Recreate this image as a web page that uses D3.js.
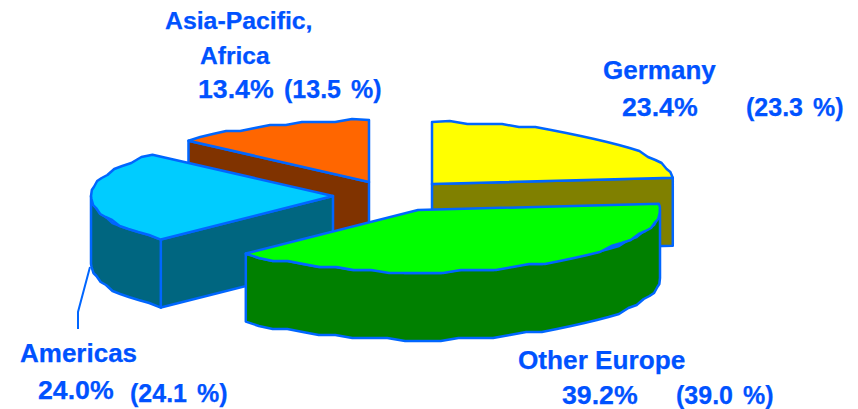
<!DOCTYPE html>
<html>
<head>
<meta charset="utf-8">
<script src="https://cdn.jsdelivr.net/npm/d3@7"></script>
<style>
  html, body { margin: 0; padding: 0; background: #fff; }
  svg { display: block; }
  text { font-family: "Liberation Sans", Arial, sans-serif; font-weight: bold; fill: #0052ff; stroke: #0052ff; stroke-width: 0.25px; }
</style>
</head>
<body>
<svg id="chart" width="858" height="409"></svg>
<script>
// Revenue share by region, current year
const regions = ["Germany", "Other Europe", "Americas", "Asia-Pacific, Africa"];
const shares = [23.4, 39.2, 24.0, 13.4];

// Exploded pie: each wedge sits on its own apex
const apexX = [432, 418, 333, 369];
const apexY = [184, 210, 196, 182];
const topColors = ["#ffff00", "#00ff00", "#00ccff", "#ff6600"];
const sideColors = ["#808000", "#008000", "#006680", "#803300"];
const paintOrder = [3, 2, 0, 1];

// Label text runs, with their anchor points and type sizes
const labelTexts = ["Germany", "23.4%", "(23.3 %)", "Other Europe", "39.2%", "(39.0 %)",
  "Americas", "24.0%", "(24.1 %)", "Asia-Pacific,", "Africa", "13.4%", "(13.5 %)"];
const labelX = [603, 622, 746, 518, 562, 676, 20, 38, 130, 165, 200, 198, 284];
const labelY = [79, 116, 116, 369, 404, 404, 362, 399, 402, 29, 64, 98, 98];
const labelSize = [26, 26.7, 25, 26.2, 26.7, 25, 26, 26.7, 25, 24.8, 24.6, 26.7, 25];
const labelGap = [0, 0, 3, 0, 0, 3, 0, 0, 3, 0, 0, 0, 3];

const rimStroke = "#0066ff";
const radiusX = 242, radiusY = 62, depth = 68;
const gridStep = 3, sampleStep = 0.075;

const svg = d3.select("#chart");
const pie = d3.pie().sort(null).value(d => d);
const arcs = pie(shares);

// Ground plane tilt: pie angle goes to an ellipse around the apex
const unitX = d3.scaleLinear().domain([0, 1]).range([0, radiusX]);
const unitY = d3.scaleLinear().domain([0, 1]).range([0, radiusY]);
const snap = v => Math.round(v / gridStep) * gridStep;
const rimPoint = (i, a) => [
  apexX[i] + unitX(Math.sin(a)),
  apexY[i] - unitY(Math.cos(a))
];
// The rim is a coarse polygon, so its vertices sit on a low resolution grid
const rimPoints = (i, a0, a1) => {
  const n = Math.max(2, Math.ceil(Math.abs(a1 - a0) / sampleStep));
  return d3.range(n + 1).map(k => {
    const p = rimPoint(i, a0 + (a1 - a0) * k / n);
    if (k === 0 || k === n) return p;
    return [p[0], apexY[i] + snap(p[1] - apexY[i])];
  });
};
const line = d3.line();
const lowered = pts => pts.map(p => [p[0], p[1] + depth]);
const closed = pts => line(pts) + "Z";
const faceStyle = { stroke: rimStroke, "stroke-width": 2.5, "stroke-linejoin": "round" };
const drawFace = (pts, fill) => {
  const path = svg.append("path").attr("d", closed(pts)).attr("fill", fill);
  Object.entries(faceStyle).forEach(([k, v]) => path.attr(k, v));
};

paintOrder.forEach(i => {
  const { startAngle: a0, endAngle: a1 } = arcs[i];
  const apex = [apexX[i], apexY[i]];
  const side = sideColors[i];

  // Cut faces of the wedge, only those turned toward the viewer
  if (a0 > Math.PI) {
    const p = rimPoint(i, a0);
    drawFace([apex, p, [p[0], p[1] + depth], [apex[0], apex[1] + depth]], side);
  }
  if (a1 < Math.PI) {
    const p = rimPoint(i, a1);
    drawFace([apex, p, [p[0], p[1] + depth], [apex[0], apex[1] + depth]], side);
  }

  // Outer wall, following the front half of the rim
  const wall0 = Math.max(a0, Math.PI / 2);
  const wall1 = Math.min(a1, Math.PI * 1.5);
  if (wall1 > wall0) {
    const rim = rimPoints(i, wall0, wall1);
    drawFace(rim.concat(lowered(rim).reverse()), side);
  }

  // Top of the wedge
  drawFace([apex].concat(rimPoints(i, a0, a1)), topColors[i]);
});

// Leader from the Americas wedge to its label
const leaderX = [90, 78, 78];
const leaderY = [267, 312, 329];
svg.append("path")
  .attr("d", line(leaderX.map((x, k) => [x, leaderY[k]])))
  .attr("fill", "none")
  .attr("stroke", rimStroke)
  .attr("stroke-width", 2);

svg.selectAll("text.label")
  .data(labelTexts)
  .join("text")
  .attr("class", "label")
  .attr("x", (d, k) => labelX[k])
  .attr("y", (d, k) => labelY[k])
  .style("font-size", (d, k) => labelSize[k] + "px")
  .style("word-spacing", (d, k) => labelGap[k] + "px")
  .text(d => d);
</script>
</body>
</html>
